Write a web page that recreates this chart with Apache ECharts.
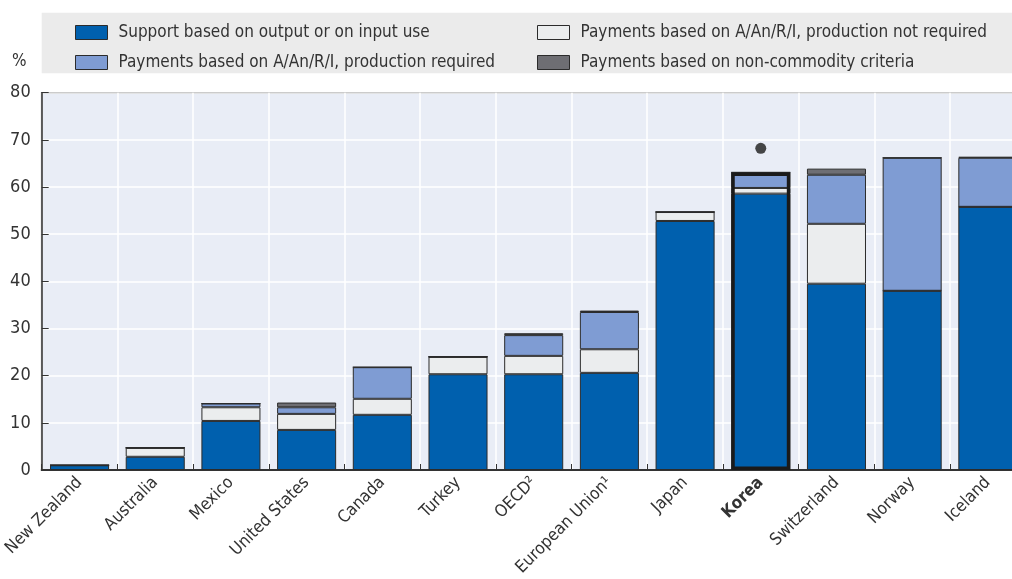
<!DOCTYPE html>
<html>
<head>
<meta charset="utf-8">
<script src="https://cdn.jsdelivr.net/npm/echarts@6/dist/echarts.min.js"></script>
<style>html,body{margin:0;padding:0;background:#fff}#c{width:1012px;height:579px}</style>
</head>
<body>
<div id="c"></div>
<script>
var categories = ['New Zealand','Australia','Mexico','United States','Canada','Turkey','OECD\u00B2','European Union\u00B9','Japan','Korea','Switzerland','Norway','Iceland'];
var outputSupport = [1.0, 2.8, 10.4, 8.5, 11.7, 20.3, 20.3, 20.6, 52.8, 58.6, 39.5, 38.0, 55.8];
var prodNotRequired = [0, 1.9, 2.9, 3.4, 3.4, 3.7, 3.9, 5.0, 1.9, 1.2, 12.7, 0, 0];
var prodRequired = [0, 0, 0.8, 1.4, 6.7, 0, 4.4, 7.9, 0, 3.3, 10.4, 28.2, 10.4];
var nonCommodity = [0, 0, 0, 1.0, 0, 0, 0.4, 0.3, 0, 0, 1.3, 0, 0.2];
var koreaDot = [null, null, null, null, null, null, null, null, null, 68.2, null, null, null];
var highlight = 'Korea';
var yTicks = [0, 10, 20, 30, 40, 50, 60, 70, 80];

var FONT = "'Liberation Sans Narrow','DejaVu Sans Condensed','Roboto Condensed',sans-serif";
var names = ['Support based on output or on input use',
             'Payments based on A/An/R/I, production not required',
             'Payments based on A/An/R/I, production required',
             'Payments based on non-commodity criteria'];
var colors = ['#0060ae', '#ebedee', '#7f9cd3', '#6e6e73'];

var totals = categories.map(function(c, i){
  return outputSupport[i] + prodNotRequired[i] + prodRequired[i] + nonCommodity[i];
});
var outline = categories.map(function(c, i){ return c === highlight ? totals[i] : '-'; });

function barSeries(name, data, color){
  return {
    name: name, type: 'bar', stack: 'total', data: data, barWidth: '78%',
    itemStyle: { color: color, borderColor: '#2b2b2b', borderWidth: 1 },
    emphasis: { disabled: true }, silent: true
  };
}

var legendText = { fontSize: 17, lineHeight: 17, color: '#333', fontFamily: FONT, padding: [0, 0, 0, 6] };

var chart = echarts.init(document.getElementById('c'), null, { renderer: 'canvas' });
chart.setOption({
  animation: false,
  textStyle: { fontFamily: FONT },
  graphic: [
    { type: 'rect', z: -1, shape: { x: 41.7, y: 12.7, width: 980, height: 60.6 }, style: { fill: '#ebebeb' } },
    { type: 'text', left: 12, top: 53, style: { text: '%', font: "17px " + FONT, fill: '#333' } }
  ],
  legend: [
    { data: [names[0], names[2]], orient: 'vertical', left: 70, top: 19, itemWidth: 32, itemHeight: 14, itemGap: 13,
      icon: 'rect', itemStyle: { borderColor: '#2b2b2b', borderWidth: 1 }, textStyle: legendText, selectedMode: false },
    { data: [names[1], names[3]], orient: 'vertical', left: 532, top: 19, itemWidth: 32, itemHeight: 14, itemGap: 13,
      icon: 'rect', itemStyle: { borderColor: '#2b2b2b', borderWidth: 1 }, textStyle: legendText, selectedMode: false }
  ],
  grid: { left: 41.7, top: 92.7, width: 984, height: 377.3, outerBoundsMode: 'none', containLabel: false,
          show: true, backgroundColor: '#e9edf6', borderColor: '#333', borderWidth: 1.5 },
  xAxis: {
    type: 'category',
    data: categories.map(function(c){ return c === highlight ? { value: c, textStyle: { fontWeight: 'bold' } } : c; }),
    axisLine: { lineStyle: { color: '#333', width: 2 } },
    axisTick: { show: true, inside: true, length: 6, lineStyle: { color: '#333' } },
    splitLine: { show: true, interval: 0, lineStyle: { color: '#ffffff', width: 1.5 } },
    axisLabel: { interval: 0, rotate: 45, margin: 10, fontSize: 17, color: '#333', fontFamily: FONT }
  },
  yAxis: {
    type: 'value', min: 0, max: 80, interval: 10,
    axisLine: { show: true, lineStyle: { color: '#333', width: 1.5 } },
    axisTick: { show: true, inside: true, length: 7, lineStyle: { color: '#333' } },
    splitLine: { show: true, lineStyle: { color: '#ffffff', width: 1.5 } },
    axisLabel: { margin: 11, fontSize: 18, color: '#333', fontFamily: FONT,
      formatter: function(v){ return yTicks.indexOf(v) >= 0 ? String(v) : ''; } }
  },
  series: [
    barSeries(names[0], outputSupport, colors[0]),
    barSeries(names[1], prodNotRequired, colors[1]),
    barSeries(names[2], prodRequired, colors[2]),
    barSeries(names[3], nonCommodity, colors[3]),
    { name: 'outline', type: 'bar', data: outline, barWidth: '78%', barGap: '-100%', z: 5, silent: true,
      itemStyle: { color: 'rgba(0,0,0,0)', borderColor: '#1a1a1a', borderWidth: 3.5 } },
    { name: 'dot', type: 'scatter', data: koreaDot, symbol: 'circle', symbolSize: 11, z: 6, silent: true,
      itemStyle: { color: '#1a1a1a' } }
  ]
});
</script>
</body>
</html>
